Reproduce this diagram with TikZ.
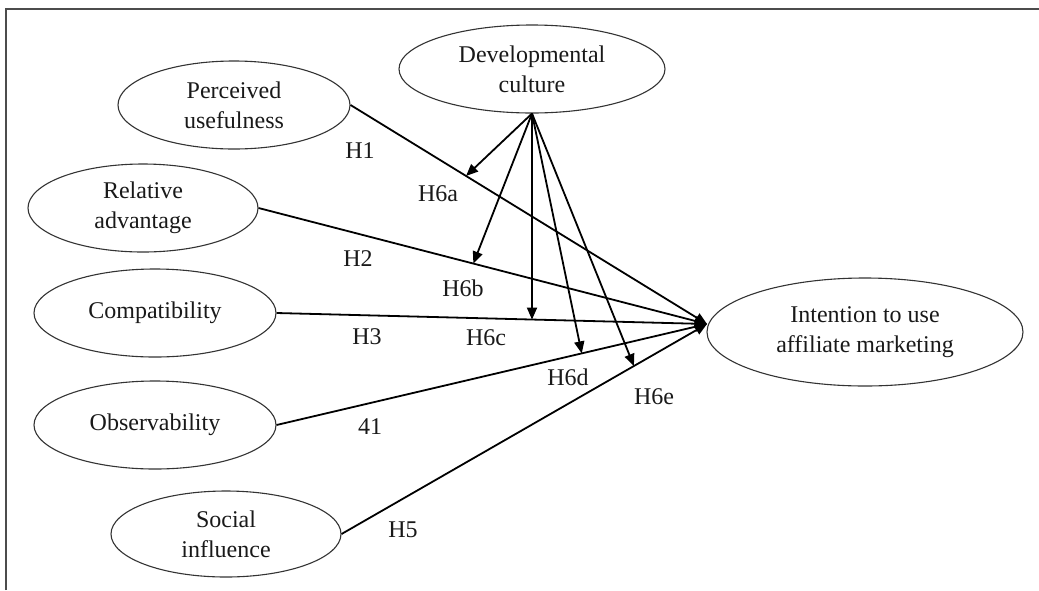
\documentclass[tikz,border=0pt]{standalone}
\usepackage{fontspec}
\setmainfont{Liberation Serif}
\usetikzlibrary{shapes.geometric,arrows.meta,calc}
\begin{document}
\begin{tikzpicture}[x=1pt,y=-1pt,
  construct/.style={ellipse,draw=black!80,line width=1.1pt,inner sep=0pt,align=center,
    font=\fontsize{24}{30}\selectfont,text=black!90},
  path/.style={line width=1.8pt,-{Triangle[length=12pt,width=10pt]}},
  hlab/.style={font=\fontsize{24}{28}\selectfont,text=black!90,inner sep=0pt}]
\useasboundingbox (0,0) rectangle (1039,590);
\draw[line width=1.2pt,black!70] (6,590) -- (6,9) -- (1039,9);

\node[construct,minimum width=232pt,minimum height=88pt] (pu) at (234,105) {Perceived\\usefulness};
\node[construct,minimum width=266pt,minimum height=88pt] (dc) at (532,69) {Developmental\\culture};
\node[construct,minimum width=230pt,minimum height=88pt] (ra) at (143,208) {Relative\\advantage};
\node[construct,minimum width=242pt,minimum height=88pt] (co) at (155,313) {Compatibility};
\node[construct,minimum width=242pt,minimum height=88pt] (ob) at (155,425) {Observability};
\node[construct,minimum width=230pt,minimum height=86pt] (si) at (226,534) {Social\\influence};
\node[construct,minimum width=316pt,minimum height=108pt] (iu) at (865,332) {Intention to use\\affiliate marketing};

\coordinate (tgt) at (707,324);

\draw[path] (pu.east) -- (tgt);
\draw[path] (ra.east) -- (tgt);
\draw[path] (co.east) -- (tgt);
\draw[path] (ob.east) -- (tgt);
\draw[path] (si.east) -- (tgt);

\coordinate (ma) at ($(pu.east)!0.324!(tgt)$);
\coordinate (mb) at ($(ra.east)!0.479!(tgt)$);
\coordinate (mc) at ($(co.east)!0.599!(tgt)$);
\coordinate (md) at ($(ob.east)!0.709!(tgt)$);
\coordinate (me) at ($(si.east)!0.80!(tgt)$);

\draw[path] (dc.south) -- (ma);
\draw[path] (dc.south) -- (mb);
\draw[path] (dc.south) -- (dc.south |- mc);
\draw[path] (dc.south) -- (md);
\draw[path] (dc.south) -- (me);

\node[hlab] (l1) at (360,151) {H1};
\node[hlab] (l6a) at (438,194) {H6a};
\node[hlab] (l2) at (358,259) {H2};
\node[hlab] (l6b) at (463,288) {H6b};
\node[hlab] (l3) at (367,337) {H3};
\node[hlab] (l6c) at (486,338) {H6c};
\node[hlab] (l6d) at (568,377) {H6d};
\node[hlab] (l6e) at (654,397) {H6e};
\node[hlab] (l4) at (370,427) {41};
\node[hlab] (l5) at (403,530) {H5};
\end{tikzpicture}
\end{document}
